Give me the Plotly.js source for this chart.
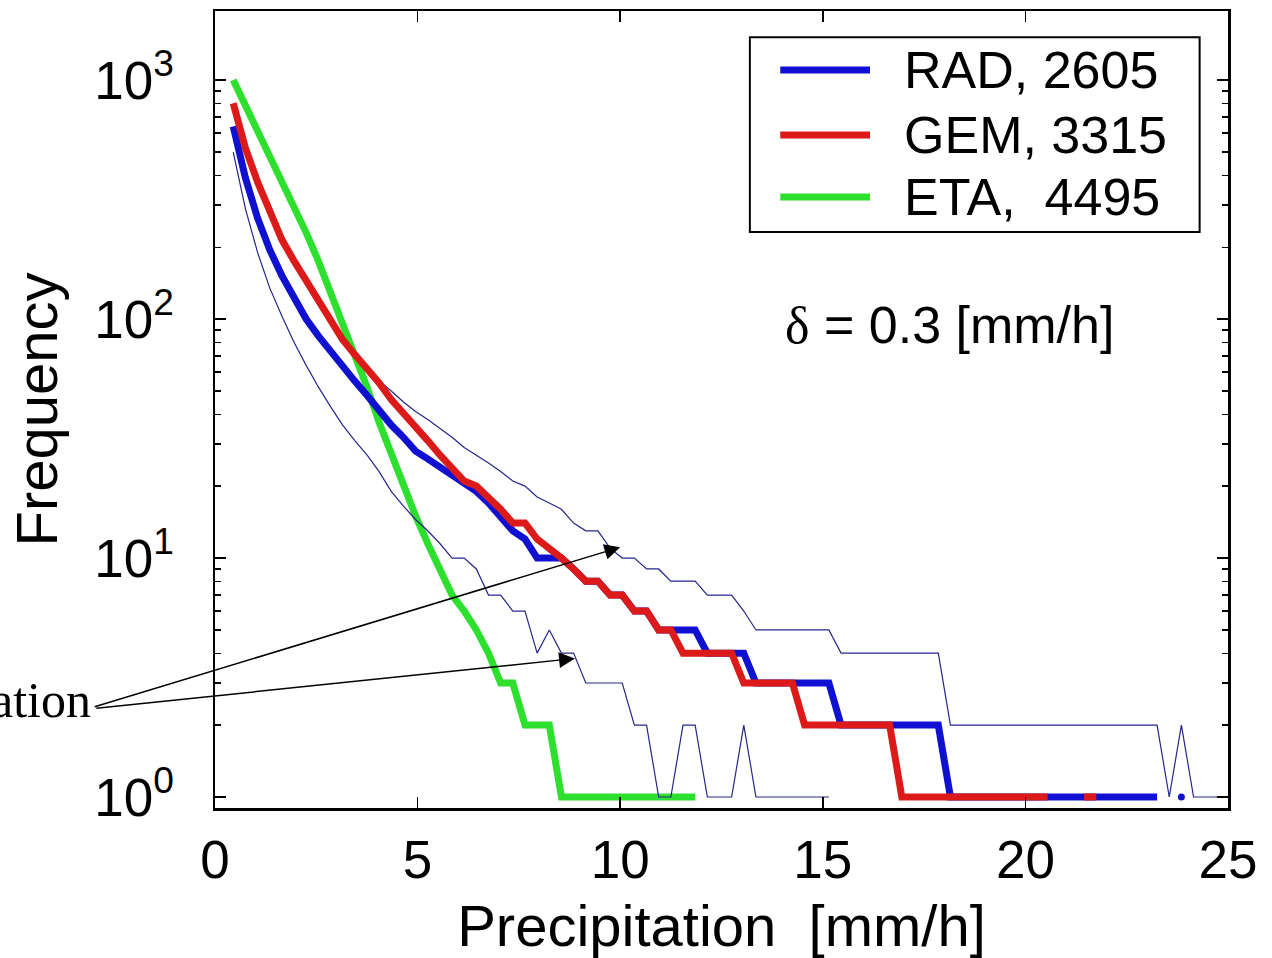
<!DOCTYPE html>
<html>
<head>
<meta charset="utf-8">
<script src="https://cdn.plot.ly/plotly-3.0.1.min.js"></script>
<style>html,body{margin:0;padding:0;background:#fff;}#chart{width:1272px;height:958px;}</style>
</head>
<body>
<div id="chart"></div>
<script>
// Bin centres of the precipitation histogram [mm/h], bin width 0.3
const precip = [0.45,0.75,1.05,1.35,1.65,1.95,2.25,2.55,2.85,3.15,3.45,3.75,4.05,4.35,4.65,4.95,5.25,5.55,5.85,6.15,
  6.45,6.75,7.05,7.35,7.65,7.95,8.25,8.55,8.85,9.15,9.45,9.75,10.05,10.35,10.65,10.95,11.25,11.55,11.85,12.15,
  12.45,12.75,13.05,13.35,13.65,13.95,14.25,14.55,14.85,15.15,15.45,15.75,16.05,16.35,16.65,16.95,17.25,17.55,17.85,18.15,
  18.45,18.75,19.05,19.35,19.65,19.95,20.25,20.55,20.85,21.15,21.45,21.75,22.05,22.35,22.65,22.95,23.25,23.55,23.85,24.15,
  24.45,24.75,25.05];

// Frequencies (null = empty bin)
const rad = [640,390,265,195,152,122,100,85,73,63,55,48,41,36,32,28,26,24,22,20.5,
  19,17,15,13,12,10,10,10,9,8,8,7,7,6,6,5,5,5,5,4,
  4,4,4,3,3,3,3,3,3,3,2,2,2,2,2,2,2,2,2,1,
  1,1,1,1,1,1,1,1,1,1,1,1,1,1,1,1,1,null,1];
const gem = [800,520,375,285,215,175,145,120,97,82,71,62,54,46,40,35,31,27,24,21,
  20,18,16,14,14,12,11,10,9,8,8,7,7,6,6,5,5,4,4,4,
  4,4,3,3,3,3,3,2,2,2,2,2,2,2,2,1,1,1,1,1,
  1,1,1,1,1,1,1,1,null,null,1,1];
const eta = [1000,780,610,480,380,300,230,175,130,97,72,52,37,27,20,15,11.5,9,7,6,
  5,4,3,3,2,2,2,1,1,1,1,1,1,1,1,1,1,1,1];
const radUpper = [790,510,365,280,212,172,142,118,97,82,71,62,55,50,45,41,38,35,32,29,
  27,25,23,21,20,18,17,16,14,13,13,11,10,10,9,9,8,8,8,7,
  7,7,6,5,5,5,5,5,5,5,4,4,4,4,4,4,4,4,4,2,
  2,2,2,2,2,2,2,2,2,2,2,2,2,2,2,2,2,1,2,1,
  1,1,1];
const radLower = [500,290,190,135,103,80,64,52,43,36,31,27,23,19,16.5,14.5,13,11.5,10,10,
  9,7,7,6,6,4,5,4,4,3,3,3,3,2,2,1,1,2,2,1,
  1,1,2,1,1,1,1,1,1,1];

const seriesNames = ['RAD, 2605', 'GEM, 3315', 'ETA,\u00a0 4495'];
const seriesColors = ['#1010d0', '#dc1a1a', '#2ee02e'];
const xTicks = [0, 5, 10, 15, 20, 25];
const xTickText = ['0', '5', '10', '15', '20', '25'];
const yTicks = [1, 10, 100, 1000];
const yTickText = ['10<sup>0</sup>', '10<sup>1</sup>', '10<sup>2</sup>', '10<sup>3</sup>'];
const deltaText = '<span style="font-family:\'Liberation Serif\',serif">\u03b4</span> = 0.3 [mm/h]';
const pointerLabel = 'ation';

const thinColor = '#26268a';
const thickW = 7;

// isolated points (both neighbours empty) need a marker to be visible
function isolated(xs, ys, color) {
  const px = [], py = [];
  for (let i = 0; i < ys.length; i++) {
    if (ys[i] == null) continue;
    const prev = i > 0 ? ys[i - 1] : null;
    const next = i < ys.length - 1 ? ys[i + 1] : null;
    if (prev == null && next == null) { px.push(xs[i]); py.push(ys[i]); }
  }
  return {x: px, y: py, type: 'scatter', mode: 'markers', marker: {color: color, size: 7}, showlegend: false, hoverinfo: 'skip'};
}

const traces = [
  {x: precip, y: eta, type: 'scatter', mode: 'lines', line: {color: seriesColors[2], width: thickW}, name: seriesNames[2], showlegend: false},
  {x: precip, y: radUpper, type: 'scatter', mode: 'lines', line: {color: thinColor, width: 1.2}, showlegend: false},
  {x: precip, y: radLower, type: 'scatter', mode: 'lines', line: {color: thinColor, width: 1.2}, showlegend: false},
  {x: precip, y: rad, type: 'scatter', mode: 'lines', line: {color: seriesColors[0], width: thickW}, name: seriesNames[0], showlegend: false},
  isolated(precip, rad, seriesColors[0]),
  {x: precip, y: gem, type: 'scatter', mode: 'lines', line: {color: seriesColors[1], width: thickW}, name: seriesNames[1], showlegend: false}
];

const F = 'Liberation Sans, Arial, Helvetica, sans-serif';

// custom legend (MATLAB style, long line samples)
const legRows = [0.926, 0.8444, 0.7666];
const shapes = [
  {type: 'rect', xref: 'paper', yref: 'paper', x0: 0.528, x1: 0.972, y0: 0.7227, y1: 0.967,
   line: {color: 'black', width: 2}, fillcolor: 'white', layer: 'above'}
];
const annotations = [];
for (let k = 0; k < 3; k++) {
  shapes.push({type: 'line', xref: 'paper', yref: 'paper', x0: 0.558, x1: 0.6466, y0: legRows[k], y1: legRows[k],
    line: {color: seriesColors[k], width: thickW}, layer: 'above'});
  annotations.push({xref: 'paper', yref: 'paper', x: 0.678, y: legRows[k], xanchor: 'left', yanchor: 'middle',
    text: seriesNames[k], showarrow: false, font: {family: F, size: 52, color: 'black'}});
}
annotations.push({xref: 'paper', yref: 'paper', x: 0.5607, y: 0.606, xanchor: 'left', yanchor: 'middle',
  text: deltaText, showarrow: false, font: {family: F, size: 52, color: 'black'}});
// arrows from the cut-off label to the thin bound curves
annotations.push({xref: 'x', yref: 'y', x: 10.0, y: Math.log10(11.1), ax: -527, ay: 160, axref: 'pixel', ayref: 'pixel',
  text: '', showarrow: true, arrowhead: 2, arrowsize: 2.1, arrowwidth: 1.5, arrowcolor: 'black', standoff: 0});
annotations.push({xref: 'x', yref: 'y', x: 8.88, y: Math.log10(3.8), ax: -480, ay: 50, axref: 'pixel', ayref: 'pixel',
  text: '', showarrow: true, arrowhead: 2, arrowsize: 2.1, arrowwidth: 1.5, arrowcolor: 'black', standoff: 0});
annotations.push({xref: 'paper', yref: 'paper', x: -0.1205, y: 0.135, xanchor: 'right', yanchor: 'middle',
  text: pointerLabel, showarrow: false, font: {family: 'Liberation Serif, Times New Roman, serif', size: 50, color: 'black'}});

const layout = {
  width: 1272, height: 958,
  margin: {l: 215, r: 44, t: 11, b: 150},
  paper_bgcolor: 'white', plot_bgcolor: 'white',
  showlegend: false,
  font: {family: F, color: 'black'},
  xaxis: {
    range: [0, 25], tickmode: 'array', tickvals: xTicks, ticktext: xTickText,
    ticks: 'inside', ticklen: 11, tickwidth: 1.5, tickcolor: 'black',
    showline: true, linecolor: 'black', linewidth: 2.5, mirror: 'ticks',
    showgrid: false, zeroline: false,
    tickfont: {family: F, size: 53, color: 'black'}, ticklabelstandoff: 4,
    title: {text: 'Precipitation\u00a0 [mm/h]', font: {family: F, size: 58, color: 'black'}, standoff: 30}
  },
  yaxis: {
    type: 'log', range: [-0.046, 3.289], tickmode: 'array', tickvals: yTicks, ticktext: yTickText,
    ticks: 'inside', ticklen: 11, tickwidth: 1.5, tickcolor: 'black',
    minor: {tickmode: 'linear', dtick: 'D1', ticks: 'inside', ticklen: 6, tickwidth: 1.2, tickcolor: 'black', showgrid: false},
    showline: true, linecolor: 'black', linewidth: 2.5, mirror: 'ticks',
    showgrid: false, zeroline: false,
    tickfont: {family: F, size: 53, color: 'black'}, ticklabelstandoff: 28,
    title: {text: 'Frequency', font: {family: F, size: 58, color: 'black'}, standoff: 18}
  },
  shapes: shapes,
  annotations: annotations
};

Plotly.newPlot('chart', traces, layout, {displayModeBar: false, staticPlot: true});
</script>
</body>
</html>
